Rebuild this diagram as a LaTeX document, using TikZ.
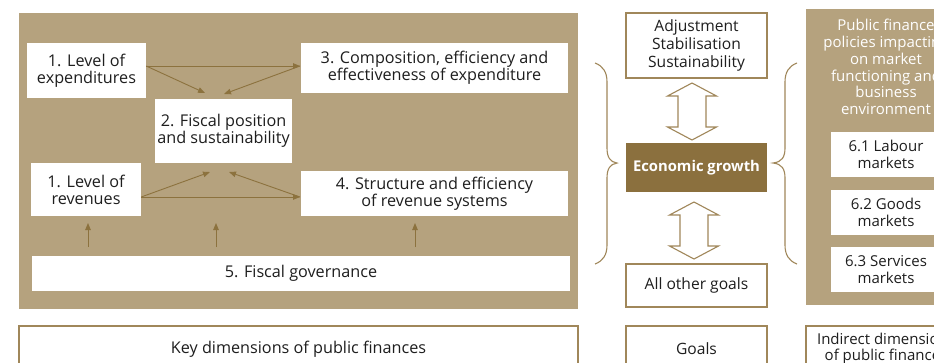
\documentclass[tikz,border=0pt]{standalone}
\usepackage{fontspec}
\setmainfont{Open Sans}
\usetikzlibrary{arrows.meta}
\definecolor{panelTan}{RGB}{181,162,126}
\definecolor{growthBrown}{RGB}{139,112,62}
\definecolor{arrowBrown}{RGB}{140,114,62}
\definecolor{edgeBrown}{RGB}{160,135,90}
\definecolor{inkGray}{RGB}{30,30,30}
\newcommand\hollowpair[3]{%
  \draw[hollow] (#1-14,#2+13) -- (#1-24.5,#2+13) -- (#1,#2) -- (#1+24.5,#2+13) -- (#1+14,#2+13)
    -- (#1+14,#3-13) -- (#1+24.5,#3-13) -- (#1,#3) -- (#1-24.5,#3-13) -- (#1-14,#3-13) -- cycle;}
\begin{document}
\begin{tikzpicture}[x=1pt,y=-1pt,
  font=\fontsize{16.2}{16.8}\selectfont,
  midfont/.style={font=\fontsize{15.6}{17.8}\selectfont},
  sidefont/.style={font=\fontsize{15}{16.8}\selectfont},
  whitebox/.style={fill=white, inner sep=0pt, align=center, text=inkGray},
  framebox/.style={draw=edgeBrown, line width=1.1pt, fill=white, inner sep=0pt, align=center, text=inkGray},
  arr/.style={draw=arrowBrown, line width=0.9pt, -{Triangle[length=7pt,width=5.5pt]}},
  hollow/.style={draw=edgeBrown, line width=1.1pt, fill=white, line join=miter},
  bracket/.style={draw=edgeBrown, line width=1.1pt}]
\useasboundingbox (0,0) rectangle (934,362);
\clip (0,0) rectangle (934,362);
\fill[white] (0,0) rectangle (934,362);

% key dimensions panel
\fill[panelTan] (19,13) rectangle (578,309);
\node[whitebox, minimum width=119pt, minimum height=55pt] (lvlexp) at (86.5,70.5) {1. Level of\\expenditures};
\node[whitebox, minimum width=267pt, minimum height=50pt] (compo) at (434.5,68) {3. Composition, efficiency and\\effectiveness of expenditure};
\node[whitebox, minimum width=137pt, minimum height=64pt] (fiscpos) at (223.5,131) {2. Fiscal position\\and sustainability};
\node[whitebox, minimum width=110pt, minimum height=53pt] (lvlrev) at (86,189.5) {1. Level of\\revenues};
\node[whitebox, minimum width=267pt, minimum height=45pt] (struct) at (434.5,193.5) {4. Structure and efficiency\\of revenue systems};
\node[whitebox, minimum width=538pt, minimum height=35pt] (govern) at (301,273.5) {5. Fiscal governance};

% links between the dimensions
\coordinate (expR) at (300,66);
\coordinate (revR) at (300,197);
\coordinate (topA) at (205,93);
\coordinate (topB) at (224,94);
\coordinate (botA) at (210,172);
\coordinate (botB) at (229,172);
\draw[arr] ([yshift=4.5pt]lvlexp.east) -- (expR);
\draw[arr] ([yshift=4.5pt]lvlexp.east) -- (topA);
\draw[arr] (expR) -- (topB);
\draw[arr] ([yshift=-7.5pt]lvlrev.east) -- (revR);
\draw[arr] ([yshift=-7.5pt]lvlrev.east) -- (botA);
\draw[arr] (revR) -- (botB);
\foreach \gx/\gn in {88/g1, 216/g2, 415/g3} {
  \coordinate (\gn s) at (\gx,247);
  \coordinate (\gn e) at (\gx,223);
  \draw[arr] (\gn s) -- (\gn e);
}

\node[framebox, minimum width=559pt, minimum height=46pt] (keydim) at (298.5,349) {Key dimensions of public finances};

% goals column
\node[framebox, midfont, minimum width=141pt, minimum height=65pt] (adjust) at (696.5,45.5) {Adjustment\\Stabilisation\\Sustainability};
\node[fill=growthBrown, text=white, font=\fontsize{14.8}{16.8}\selectfont\bfseries, inner sep=0pt, minimum width=141pt, minimum height=49pt] (growth) at (696.5,167.5) {Economic growth};
\node[framebox, midfont, minimum width=141pt, minimum height=43pt] (others) at (696.5,285.5) {All other goals};
\node[framebox, midfont, minimum width=141pt, minimum height=46pt] (goals) at (696.5,349) {Goals};
\hollowpair{692}{83}{140}
\hollowpair{694}{202}{259}

% braces around economic growth
\draw[bracket] (595,63) .. controls (603,66) and (607,72) .. (607,82) -- (607,148)
  .. controls (607,157) and (610,162) .. (617,163) .. controls (610,164) and (607,169) .. (607,178)
  -- (607,245) .. controls (607,255) and (603,261) .. (595,264);
\draw[bracket] (797,63) .. controls (789,66) and (785,72) .. (785,82) -- (785,148)
  .. controls (785,157) and (782,162) .. (773,163) .. controls (782,164) and (785,169) .. (785,178)
  -- (785,245) .. controls (785,255) and (789,261) .. (797,264);

% indirect dimensions panel
\fill[panelTan] (806,9) rectangle (966,305);
\node[sidefont, text=white, align=center, inner sep=0pt] (policies) at (886,67) {Public finance\\policies impacting\\on market\\functioning and\\business\\environment};
\node[whitebox, sidefont, minimum width=110pt, minimum height=45pt] (labour) at (886,154.5) {6.1 Labour\\markets};
\node[whitebox, sidefont, minimum width=110pt, minimum height=45pt] (goodsm) at (886,212.5) {6.2 Goods\\markets};
\node[whitebox, sidefont, minimum width=110pt, minimum height=45pt] (servm) at (886,269.5) {6.3 Services\\markets};
\node[framebox, minimum width=160pt, minimum height=54pt] (indirect) at (886,353) {};
\node[sidefont, align=center, text=inkGray, inner sep=0pt] (indirtxt) at (886,348.5) {Indirect dimensions\\of public finances};
\end{tikzpicture}
\end{document}
